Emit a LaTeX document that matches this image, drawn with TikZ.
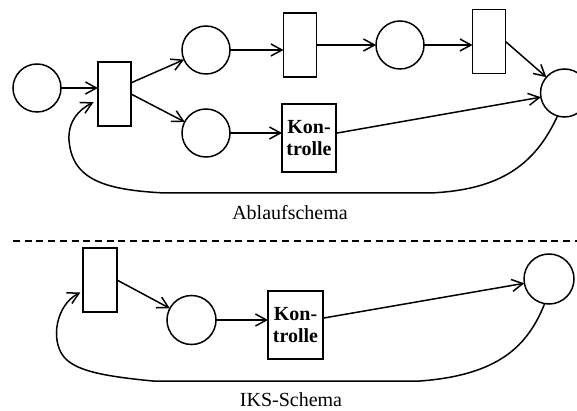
\documentclass[tikz,border=0pt]{standalone}
\usepackage{fontspec}
\setmainfont{Liberation Serif}
\usepackage{tikz}
\usetikzlibrary{arrows.meta,positioning,calc}

\begin{document}
\begin{tikzpicture}[x=1pt,y=-1pt,line width=1.5pt,
    stelle/.style={draw,circle,minimum size=48pt,inner sep=0pt,outer sep=0pt},
    trans/.style={draw,rectangle,minimum width=33pt,minimum height=64pt,inner sep=0pt,outer sep=0pt},
    kontr/.style={draw,rectangle,minimum width=54pt,minimum height=68pt,inner sep=0pt,outer sep=0pt,
      align=center,font=\fontsize{20}{22}\selectfont\bfseries},
    pfeil/.style={-{Straight Barb[length=11pt,width=12pt]}},
    lab/.style={font=\fontsize{20}{24}\selectfont}]
  \useasboundingbox (0,0) rectangle (577,411);
  % Ablaufschema
  \node[stelle] (p0) at (37,88) {};
  \node[trans]  (t0) at (114.5,94) {};
  \node[stelle] (p1) at (206,50) {};
  \node[stelle] (p2) at (206,133) {};
  \node[trans]  (t1) at (300,45) {};
  \node[stelle] (p3) at (400,45) {};
  \node[trans]  (t2) at (489,41.5) {};
  \node[stelle] (p4) at (564.5,93) {};
  \node[kontr]  (k1) at (309,138) {Kon-\\trolle};
  \draw[pfeil] (p0.east) -- (p0.east -| t0.west);
  \draw[pfeil] (t0.34) -- (p1);
  \draw[pfeil] (t0.east) -- (p2);
  \draw[pfeil] (p1.east) -- (p1.east -| t1.west);
  \draw[pfeil] (p2.east) -- (p2.east -| k1.west);
  \draw[pfeil] (t1) -- (p3);
  \draw[pfeil] (p3.east) -- (p3.east -| t2.west);
  \draw[pfeil] (t2.east) -- (p4);
  \draw[pfeil] (k1.10) -- (p4);
  \draw[pfeil,shorten >=5pt] (p4.-107) .. controls (535,165) and (500,190) .. (430,193)
    -- (165,193) .. controls (105,190) and (72,180) .. (69,140)
    .. controls (68,122) and (78,110) .. (t0.-160);
  \node[lab] (a1) at (290,213) {Ablaufschema};
  % Trennlinie
  \coordinate (dl) at (13,241);
  \coordinate (dr) at (577,241);
  \draw[dash pattern=on 7pt off 4.7pt,line width=1.6pt] (dl) -- (dr);
  % IKS-Schema
  \node[trans,minimum width=34pt]  (t) at (100,280) {};
  \node[stelle,minimum size=49pt] (p) at (191.5,320) {};
  \node[kontr,minimum width=55pt]  (k) at (295.5,325) {Kon-\\trolle};
  \node[stelle,minimum size=50pt] (q) at (549,279) {};
  \draw[pfeil] (t.east) -- (p);
  \draw[pfeil] (p.east) -- (p.east -| k.west);
  \draw[pfeil] (k.14) -- (q);
  \draw[pfeil,shorten >=3pt] (q.-100) .. controls (528,345) and (500,375) .. (420,381)
    -- (153,381) .. controls (100,376) and (75,370) .. (64,357)
    .. controls (50,340) and (56,305) .. (t.-147);
  \node[lab] (a2) at (291,400) {IKS-Schema};
\end{tikzpicture}
\end{document}
